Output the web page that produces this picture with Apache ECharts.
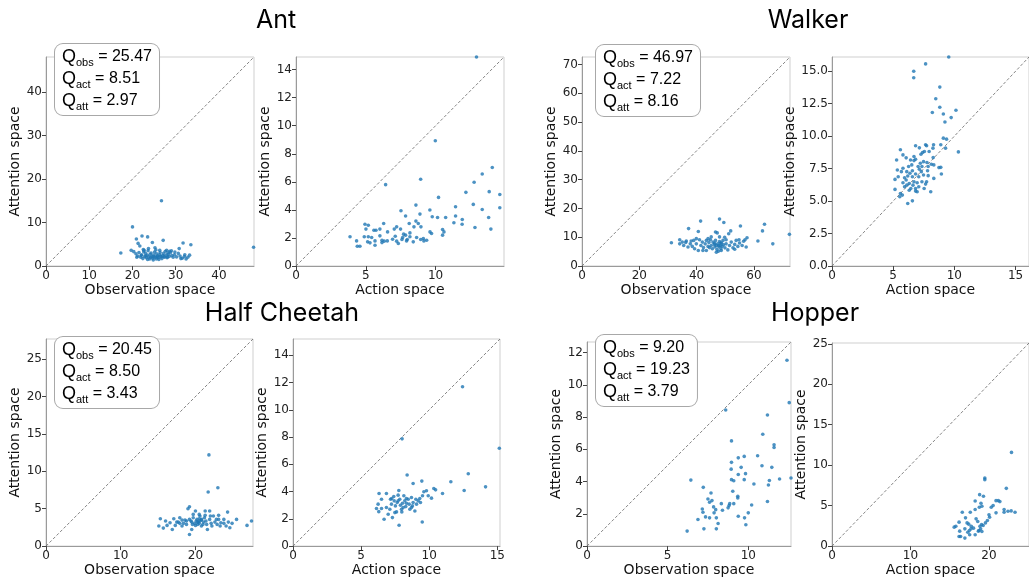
<!DOCTYPE html>
<html><head><meta charset="utf-8">
<script src="https://cdn.jsdelivr.net/npm/echarts@6/dist/echarts.min.js"></script>
<style>html,body{margin:0;padding:0;background:#fff}#c{width:1029px;height:578px}</style>
</head><body><div id="c"></div>
<script>
// ---------- data ----------
const antObs = [[48.0,4.3],[26.7,15.0],[20.0,9.0],[17.3,3.0],[22.2,6.9],[20.9,6.2],[23.5,6.7],[27.1,5.9],[24.6,5.4],[31.7,5.3],[33.5,4.9],[21.3,5.2],[21.7,4.6],[25.2,4.2],[30.8,4.0],[28.6,3.4],[19.7,3.6],[22.7,3.6],[26.3,3.6],[28.2,3.0],[29.8,3.2],
[20.8,2.8],[21.2,2.3],[21.5,3.1],[21.9,2.0],[22.1,2.6],[22.4,1.7],[22.6,3.3],[22.8,2.2],[23.0,2.9],[23.2,1.9],[23.4,2.5],[23.6,3.5],[23.8,2.1],[24.0,1.6],[24.1,2.7],[24.3,3.0],[24.5,2.2],[24.7,1.8],[24.9,2.5],[25.1,3.2],[25.3,2.0],[25.5,1.6],[25.6,2.8],[25.8,2.3],[26.0,1.9],[26.2,2.6],[26.4,3.1],[26.6,2.1],[26.8,1.7],[27.0,2.4],[27.2,2.9],[27.4,2.0],[27.6,3.4],[27.8,2.5],[28.0,1.9],[28.3,2.7],[28.5,2.2],[28.8,3.1],[29.1,2.4],[29.4,2.0],[29.7,2.6],[30.2,2.1],[30.6,2.9],[31.0,2.3],[31.5,1.8],[32.0,2.2],[32.4,1.6],[32.8,2.0],[33.2,2.5],[21.0,2.0],[22.0,2.4],[23.1,2.3],[24.2,2.0],[25.0,2.2],[25.7,2.1],[26.5,2.3],[27.3,2.2],[28.1,2.1],[23.5,1.5],[24.8,1.4],[26.1,1.5],[22.5,3.8],[23.7,4.0],[27.9,3.6],[25.4,3.7],[29.0,3.5],[20.3,3.3],[31.2,1.7],[32.1,2.6]];

const antAct = [[12.93,14.9],[9.98,8.93],[8.93,6.18],[6.42,5.80],[14.06,7.02],[13.34,6.56],[12.76,5.97],[13.84,5.30],[12.17,5.25],[14.6,5.1],[10.21,4.89],[12.7,4.39],[8.59,4.34],[13.34,4.03],[11.43,4.22],[14.6,4.15],[7.52,3.94],[9.59,3.99],[8.88,3.70],[7.85,3.56],[9.76,3.51],[10.14,3.46],[10.72,3.46],[11.43,3.56],[13.8,3.46],[11.91,3.32],[8.59,3.20],[8.76,3.03],[11.31,3.08],[11.9,2.98],[8.11,3.03],[6.28,3.03],[4.94,2.98],[5.18,2.91],[8.95,2.79],[7.21,2.79],[8.45,2.79],[6.01,2.63],[5.01,2.63],[5.58,2.55],[5.73,2.55],[7.04,2.63],[7.49,2.63],[10.5,2.60],[12.82,2.74],[13.96,2.63],[6.56,2.43],[10.6,2.43],[9.71,2.32],[9.6,2.43],[8.16,2.36],[7.71,2.27],[7.85,2.20],[10.5,2.20],[7.11,2.12],[3.87,2.08],[4.89,2.08],[5.18,2.08],[6.01,2.15],[5.42,2.03],[8.16,2.08],[7.64,2.03],[8.64,2.03],[9.12,1.96],[9.36,1.84],[8.93,1.89],[9.16,1.79],[7.59,1.89],[7.92,1.79],[6.92,1.91],[7.21,1.77],[7.33,1.60],[6.54,1.79],[6.16,1.67],[5.66,1.79],[5.13,1.72],[5.30,1.65],[4.34,1.79],[4.39,1.41],[4.58,1.41],[5.66,1.48],[6.32,1.77],[8.4,1.72],[7.97,1.89],[6.16,1.84]];

const walkerObs = [[72.4,11.0],[48.0,16.3],[49.5,15.1],[41.4,15.6],[37.2,13.0],[55.3,13.9],[63.7,14.5],[63.0,12.2],[40.6,12.0],[51.9,12.2],[46.6,11.8],[47.2,11.5],[57.6,9.8],[56.9,9.1],[61.4,8.7],[66.6,7.7],[51.2,11.2],[49.8,10.0],[31.2,8.1],[34.1,9.1],[36.4,8.7],
[34.1,7.7],[35.0,8.3],[35.5,7.1],[36.2,8.2],[37.8,7.7],[38.5,6.8],[39.0,8.9],[39.9,7.7],[40.6,5.4],[41.0,9.1],[41.5,7.1],[42.0,8.3],[42.4,6.4],[43.0,7.7],[43.4,8.9],[44.0,6.8],[44.3,8.2],[44.8,9.1],[45.1,7.1],[45.5,6.0],[45.7,8.3],[46.2,7.5],[46.4,6.6],[46.6,8.9],[46.9,7.1],[47.1,5.7],[47.4,7.7],[47.6,5.1],[47.8,6.6],[48.0,8.5],[48.3,7.1],[48.5,6.0],[48.7,8.0],[48.9,6.8],[49.2,8.9],[49.4,7.4],[49.9,6.3],[50.3,7.7],[50.9,5.6],[51.5,7.1],[52.1,8.3],[52.7,6.3],[53.3,7.5],[53.8,8.9],[54.4,6.8],[55.0,8.0],[55.9,7.1],[56.4,8.6],[57.3,6.6],[39.9,9.5],[38.1,8.7],[37.0,6.6],[43.4,5.4],[45.1,10.1],[48.0,10.1],[44.0,9.5],[46.9,4.8],[48.6,5.4],[50.3,9.1],[42.2,5.4],[39.3,6.0],[46.3,7.9],[47.7,7.1],[48.4,8.0],[44.5,6.4],[53.3,5.8],[54.8,9.1]];

const walkerAct = [[9.54,16.1],[7.65,15.57],[6.68,15.0],[6.68,14.5],[8.81,13.78],[8.48,12.88],[8.81,12.23],[8.20,11.82],[10.13,12.0],[9.10,11.71],[9.74,11.43],[9.23,11.09],[10.33,8.79],[9.10,9.85],[9.36,9.77],[9.28,9.08],[8.89,9.34],[8.30,9.34],
[5.59,8.95],[6.83,9.26],[7.14,9.10],[7.65,9.34],[7.73,9.26],[5.80,8.56],[6.06,8.33],[6.42,8.17],[5.28,8.17],[6.70,8.43],[6.83,8.22],[7.27,8.61],[7.40,8.74],[7.55,8.82],[7.94,8.82],[8.25,9.08],[8.12,7.84],[8.27,8.35],[7.76,7.97],[7.86,7.66],[8.32,7.79],[8.74,7.58],[8.89,7.60],[8.94,7.09],[8.32,6.75],[7.81,7.34],[7.86,6.96],[7.73,6.49],[7.65,6.31],[7.53,5.97],[8.07,5.72],[7.09,6.10],[6.96,6.41],[6.44,5.97],[6.83,5.77],[6.83,5.97],[6.96,5.72],[6.31,5.84],[6.57,5.02],[6.19,4.81],[5.80,6.41],[5.59,5.59],[5.75,5.46],[5.54,5.33],[5.15,5.90],[5.93,6.10],[6.06,6.62],[5.41,6.88],[5.15,6.67],[5.93,6.80],[5.67,7.27],[5.34,7.40],[5.80,7.53],[6.11,7.27],[6.26,7.66],[6.52,7.79],[6.70,8.12],[6.19,6.93],[6.37,7.14],[6.57,7.34],[6.83,7.09],[7.04,7.66],[7.14,7.45],[7.30,7.27],[7.35,7.66],[7.48,8.04],[7.22,7.92],[6.57,6.88],[6.70,6.49],[6.31,6.36],[6.11,6.23],[7.48,7.01],[7.09,6.88],[6.62,6.23],[7.35,6.49]];

const cheetahObs = [[27.5,3.35],[26.9,2.77],[25.5,3.57],[21.8,12.2],[23.0,7.81],[21.7,7.23],[19.2,5.27],[19.0,5.0],[24.3,4.55],[20.0,4.69],[21.3,4.69],[21.9,4.69],[15.3,3.66],[15.1,2.68],[15.7,2.41],[16.0,3.35],[17.1,3.66],[16.9,2.23],[17.5,3.21],[17.9,3.79],[18.2,2.68],[18.6,3.48],[18.8,2.90],[19.4,3.35],[19.7,3.79],[19.9,3.04],[20.2,3.57],[20.4,3.21],[20.6,4.02],[20.8,3.48],[21.0,2.90],[21.2,3.79],[21.4,3.35],[21.6,2.23],[21.9,3.57],[22.1,3.04],[22.4,4.02],[22.6,3.21],[22.9,2.90],[23.1,3.57],[23.4,3.13],[23.8,3.57],[24.1,2.68],[24.4,3.21],[24.9,3.04],[19.2,1.56],[19.5,2.23],[20.0,2.77],[20.3,3.21],[20.5,3.04],[20.6,3.35],[20.8,3.57],[21.1,3.21],[19.5,3.21],[19.6,2.90],[20.1,3.35],[20.3,2.90],[20.5,3.66],[19.2,3.57],[18.8,3.35],[18.4,3.04],[17.7,3.21],[16.6,3.13],[16.2,2.77],[17.3,2.77],[17.9,3.04],[21.5,2.90],[22.2,2.68],[22.8,3.57],[23.3,2.68],[24.6,2.46],[23.8,3.04],[21.3,4.11],[20.5,4.24],[19.7,4.24],[23.1,4.11],[22.0,4.02],[20.8,2.68],[18.2,3.48]];

const cheetahAct = [[15.15,7.18],[12.45,11.69],[8.01,7.87],[8.38,5.22],[12.87,5.31],[11.59,4.72],[9.46,4.77],[8.82,4.60],[12.57,4.08],[14.14,4.35],[10.98,3.86],[10.34,4.23],[10.47,4.13],[9.80,4.06],[9.61,3.99],[9.93,3.69],[10.17,3.52],[9.51,3.69],[9.31,3.49],[9.49,1.77],[7.79,1.53],[6.32,3.86],[6.50,3.44],[6.86,3.86],[7.77,4.08],[7.72,3.74],[6.13,2.76],[6.25,3.08],[6.30,2.53],[6.50,2.76],[6.69,1.97],[6.86,2.83],[6.99,2.34],[7.16,3.44],[7.23,3.08],[7.30,2.09],[7.43,3.32],[7.52,2.95],[7.60,2.51],[7.65,3.20],[7.84,3.44],[7.89,3.00],[7.97,2.71],[8.04,3.15],[8.14,3.69],[8.21,3.32],[8.28,2.90],[8.33,3.15],[8.46,3.44],[8.53,3.08],[8.58,2.71],[8.70,3.57],[8.77,2.95],[8.82,3.20],[8.95,2.58],[9.07,3.08],[9.19,3.32],[9.36,3.20],[7.48,2.46],[7.11,2.71],[8.09,2.83],[8.33,3.49],[7.72,3.32],[7.40,3.64],[7.25,3.49],[7.99,2.51],[9.02,3.44],[8.70,2.83]];

const hopperObs = [[12.40,11.52],[12.54,8.89],[12.65,4.22],[8.60,8.44],[11.19,8.13],[8.96,6.52],[10.90,6.93],[11.60,6.28],[11.60,6.11],[10.58,5.60],[10.85,4.98],[11.46,4.88],[9.75,5.56],[9.38,5.47],[8.96,5.19],[9.56,4.88],[8.94,4.77],[9.38,4.44],[9.83,4.49],[9.75,4.12],[8.96,4.12],[9.10,4.05],[10.35,3.85],[11.31,4.07],[11.25,3.79],[11.94,4.16],[6.44,4.09],[7.21,3.64],[9.04,3.40],[7.69,3.29],[7.50,2.92],[9.35,3.09],[9.35,2.98],[8.33,2.63],[8.81,2.51],[8.85,2.63],[8.75,2.37],[8.40,2.22],[7.85,2.43],[7.98,2.26],[7.75,2.82],[7.60,2.72],[7.15,2.30],[7.19,2.10],[7.35,1.81],[7.60,1.75],[6.88,1.65],[7.88,2.06],[8.02,1.75],[8.13,1.40],[7.25,1.07],[8.02,1.07],[6.21,0.93],[9.38,1.85],[10.0,2.06],[10.21,2.55],[11.19,2.76],[9.77,1.75],[9.85,1.32],[9.10,2.63]];

const hopperAct = [[22.87,11.58],[22.21,7.14],[19.47,8.42],[19.47,8.21],[18.81,6.36],[19.30,6.16],[18.24,5.58],[18.98,5.30],[19.10,4.93],[18.77,4.80],[20.90,5.62],[21.19,5.62],[21.39,5.50],[20.53,5.01],[20.29,4.80],[20.90,4.11],[21.93,4.19],[22.42,4.31],[22.83,4.35],[23.32,4.19],[21.93,4.52],[20.00,3.86],[20.08,3.57],[18.24,4.52],[17.62,4.19],[16.60,4.19],[17.01,3.49],[16.19,2.96],[15.57,2.34],[15.78,2.46],[17.21,2.87],[17.42,2.71],[18.36,3.37],[18.57,3.04],[19.06,2.67],[19.26,2.55],[18.85,2.46],[19.55,2.87],[19.80,3.16],[17.75,2.46],[18.03,2.22],[17.71,2.13],[17.50,1.93],[17.30,1.72],[16.93,2.13],[16.27,1.85],[16.39,1.19],[16.19,1.19],[16.93,0.99],[18.24,1.40],[18.94,2.13],[18.73,1.93],[19.10,1.81],[17.54,1.40],[18.65,1.85]];

const panelData = [antObs, antAct, walkerObs, walkerAct, cheetahObs, cheetahAct, hopperObs, hopperAct];
const limits = [48.1, 14.9, 72.6, 16.1, 27.7, 15.2, 12.65, 25.1];
const xTicks = [[0,10,20,30,40],[0,5,10],[0,20,40,60],[0,5,10,15],[0,10,20],[0,5,10,15],[0,5,10],[0,10,20]];
const yTicks = [[0,10,20,30,40],[0,2,4,6,8,10,12,14],[0,10,20,30,40,50,60,70],[0,2.5,5,7.5,10,12.5,15],[0,5,10,15,20,25],[0,2,4,6,8,10,12,14],[0,2,4,6,8,10,12],[0,5,10,15,20,25]];
const xNames = ['Observation space','Action space','Observation space','Action space','Observation space','Action space','Observation space','Action space'];
const yName = 'Attention space';
const envTitles = ['Ant','Walker','Half Cheetah','Hopper'];
const qLabels = ['obs','act','att'];
const qValues = [['25.47','8.51','2.97'],['46.97','7.22','8.16'],['20.45','8.50','3.43'],['9.20','19.23','3.79']];

// ---------- layout ----------
const layout = [
  {left:46, top:57, w:208, h:209, yGap:18},
  {left:296, top:57, w:208, h:209, yGap:21},
  {left:582, top:57, w:208, h:209, yGap:21},
  {left:832, top:57, w:208, h:209, yGap:31},
  {left:46, top:339, w:207, h:208, yGap:20},
  {left:293, top:339, w:207, h:208, yGap:20},
  {left:587, top:342, w:204, h:205, yGap:21},
  {left:832, top:343, w:204, h:204, yGap:22}
];
const titlePos = [[276,20],[808,20],[282,313],[815,313]];
const boxPos = [[55,44],[596,45],[55,337],[596,335]];

const tickFont = {fontSize:12, fontFamily:'DejaVu Sans', color:'#222'};
const nameFont = {fontSize:14, fontFamily:'DejaVu Sans', color:'#111'};

const grid = [], xAxis = [], yAxis = [], series = [], graphic = [];
layout.forEach((L, i) => {
  grid.push({left:L.left, top:L.top, width:L.w, height:L.h, show:true, borderColor:'#cfcfcf', borderWidth:1, containLabel:false});
  xAxis.push({
    gridIndex:i, type:'value', min:0, max:limits[i],
    splitLine:{show:false},
    axisLine:{show:true, onZero:false, lineStyle:{color:'#9a9a9a', width:1}},
    axisTick:{show:true, length:4, lineStyle:{color:'#444'}, customValues:xTicks[i]},
    axisLabel:Object.assign({customValues:xTicks[i], margin:4, showMinLabel:true, showMaxLabel:true}, tickFont),
    name:xNames[i], nameLocation:'middle', nameGap:16, nameTextStyle:nameFont
  });
  yAxis.push({
    gridIndex:i, type:'value', min:0, max:limits[i],
    splitLine:{show:false},
    axisLine:{show:true, onZero:false, lineStyle:{color:'#9a9a9a', width:1}},
    axisTick:{show:true, length:4, lineStyle:{color:'#444'}, customValues:yTicks[i]},
    axisLabel:Object.assign({customValues:yTicks[i], margin:4,
      formatter: i === 3 ? (v => Number(v).toFixed(1)) : (v => String(v))}, tickFont),
    name:yName, nameLocation:'middle', nameGap:L.yGap, nameTextStyle:nameFont
  });
  series.push({
    type:'line', xAxisIndex:i, yAxisIndex:i, data:[[0,0],[limits[i],limits[i]]],
    symbol:'none', silent:true, lineStyle:{color:'#666', width:0.8, type:[3,2]}, z:1
  });
  series.push({
    type:'scatter', xAxisIndex:i, yAxisIndex:i, data:panelData[i],
    symbolSize:3.6, itemStyle:{color:'#1f77b4'}, z:2
  });
});

envTitles.forEach((t, k) => {
  graphic.push({type:'text', x:titlePos[k][0], y:titlePos[k][1], z:50,
    style:{text:t, fontSize:25, fontFamily:'Inter', fill:'#000', align:'center', verticalAlign:'middle'}});
});

qValues.forEach((vals, k) => {
  const txt = qLabels.map((lab, j) => '{q|Q}{s|' + lab + '}{t| = ' + vals[j] + '}').join('\n');
  graphic.push({type:'text', x:boxPos[k][0], y:boxPos[k][1], z:100,
    style:{
      text:txt,
      rich:{
        q:{fontSize:18, fontFamily:'Liberation Sans', fill:'#000', lineHeight:22, verticalAlign:'middle'},
        s:{fontSize:11, fontFamily:'Liberation Sans', fill:'#000', lineHeight:8, verticalAlign:'bottom'},
        t:{fontSize:16, fontFamily:'Liberation Sans', fill:'#000', lineHeight:22, verticalAlign:'middle'}
      },
      backgroundColor:'#fff', borderColor:'#a8a8a8', borderWidth:1, borderRadius:8,
      padding:[2,7,3,7]
    }});
});

const chart = echarts.init(document.getElementById('c'), null, {renderer:'canvas'});
chart.setOption({animation:false, backgroundColor:'#fff', grid, xAxis, yAxis, series, graphic});
</script>
</body></html>
